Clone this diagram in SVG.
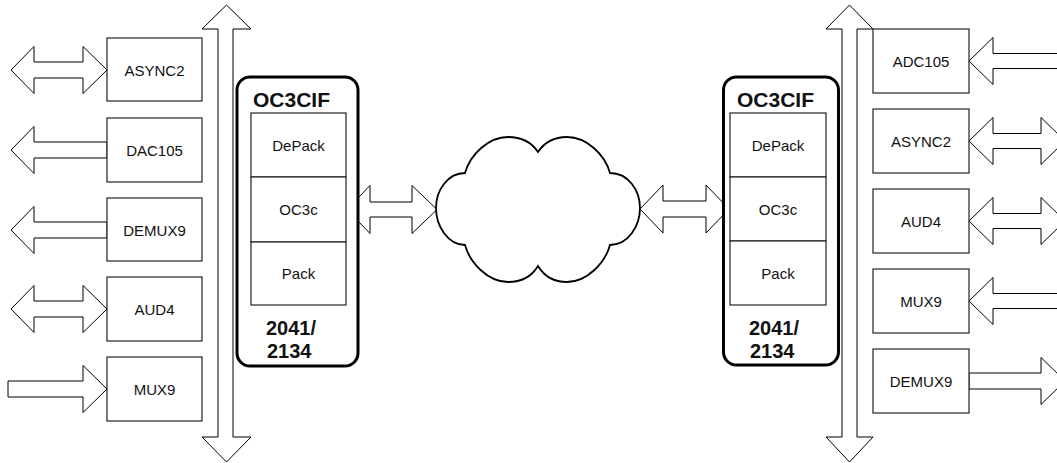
<svg xmlns="http://www.w3.org/2000/svg" width="1057" height="463" viewBox="0 0 1057 463">
<style>
.arr{fill:#fff;stroke:#000;stroke-width:1;stroke-linejoin:miter}
.box{fill:#fff;stroke:#222;stroke-width:1.2}
.blk{fill:#fff;stroke:#000;stroke-width:3}
.cloud{fill:#fff;stroke:#000;stroke-width:1.8}
.t{font-family:"Liberation Sans",Arial,sans-serif;font-size:15px;fill:#111;text-anchor:middle;dominant-baseline:central}
.b{font-family:"Liberation Sans",Arial,sans-serif;font-size:20px;font-weight:bold;fill:#111}
.h{font-size:21px}
</style>
<rect width="1057" height="463" fill="#fff"/>
<g id="connectors">
  <polygon class="arr" points="226.5,5 251,29 233,29 233,437 251,437 226.5,462 202,437 218,437 218,29 202,29"/>
  <polygon class="arr" points="849.5,5 873,29 857,29 857,437 873,437 849.5,462 826,437 842,437 842,29 826,29"/>
  <polygon class="arr" points="11,70 34,46.5 34,62 83,62 83,46.5 107,70 83,93.5 83,78 34,78 34,93.5"/>
  <polygon class="arr" points="11,150 34,126.5 34,142 107,142 107,158 34,158 34,173.5"/>
  <polygon class="arr" points="11,230 34,206.5 34,222 107,222 107,238 34,238 34,253.5"/>
  <polygon class="arr" points="11,309 34,285.5 34,301 83,301 83,285.5 107,309 83,332.5 83,317 34,317 34,332.5"/>
  <polygon class="arr" points="8,381 83,381 83,365.5 107,389 83,412.5 83,397 8,397"/>
  <polygon class="arr" points="347,209.5 370,185.5 370,202 412,202 412,185.5 437,209.5 412,233.5 412,217 370,217 370,233.5"/>
  <polygon class="arr" points="640,209 663,185 663,201 706,201 706,185 729,209 706,233 706,217 663,217 663,233"/>
  <polygon class="arr" points="969,61 993,37.5 993,53.5 1060,53.5 1060,68.5 993,68.5 993,84.5"/>
  <polygon class="arr" points="969,141 993,117.5 993,133.5 1041,133.5 1041,117.5 1065,141 1041,164.5 1041,148.5 993,148.5 993,164.5"/>
  <polygon class="arr" points="969,221 993,197.5 993,213.5 1041,213.5 1041,197.5 1065,221 1041,244.5 1041,228.5 993,228.5 993,244.5"/>
  <polygon class="arr" points="969,301 993,277.5 993,293.5 1060,293.5 1060,308.5 993,308.5 993,324.5"/>
  <polygon class="arr" points="969,373 1041,373 1041,357.5 1065,381 1041,404.5 1041,389 969,389"/>
</g>
<g id="left-ASYNC2"><rect class="box" x="107" y="38" width="95" height="63"/><text class="t" x="154.5" y="70">ASYNC2</text></g>
<g id="left-DAC105"><rect class="box" x="107" y="118" width="95" height="64"/><text class="t" x="154.5" y="150">DAC105</text></g>
<g id="left-DEMUX9"><rect class="box" x="107" y="198" width="95" height="63"/><text class="t" x="154.5" y="230">DEMUX9</text></g>
<g id="left-AUD4"><rect class="box" x="107" y="277" width="95" height="64"/><text class="t" x="154.5" y="309">AUD4</text></g>
<g id="left-MUX9"><rect class="box" x="107" y="357" width="95" height="64"/><text class="t" x="154.5" y="389">MUX9</text></g>
<g id="left-OC3CIF">
  <rect class="blk" x="237" y="77" width="121" height="289" rx="13"/>
  <text class="b h" x="253" y="107">OC3CIF</text>
  <rect class="box" x="251" y="113" width="95" height="64"/><text class="t" x="298.5" y="145">DePack</text>
  <rect class="box" x="251" y="177" width="95" height="65"/><text class="t" x="298.5" y="209.5">OC3c</text>
  <rect class="box" x="251" y="242" width="95" height="63"/><text class="t" x="298.5" y="273.5">Pack</text>
  <text class="b" x="266" y="335">2041/</text>
  <text class="b" x="267" y="358">2134</text>
</g>
<g id="cloud">
  <path class="cloud" d="M465,173 C470,155 488,137 508,137 C522,137 532,143 538,152 C544,143 554,137 567,137 C587,137 605,155 610,173 C628,173 640,190 640,208 C640,226 628,245 610,245 C605,263 587,282 567,282 C554,282 544,276 538,266 C532,276 522,282 508,282 C488,282 470,263 465,245 C448,245 436,226 436,208 C436,190 448,173 465,173 Z"/>
</g>
<g id="right-OC3CIF">
  <rect class="blk" x="723.5" y="77" width="115" height="288" rx="13"/>
  <text class="b h" x="737" y="107">OC3CIF</text>
  <rect class="box" x="730" y="113" width="96" height="64"/><text class="t" x="778" y="145">DePack</text>
  <rect class="box" x="730" y="177" width="96" height="64"/><text class="t" x="778" y="209">OC3c</text>
  <rect class="box" x="730" y="241" width="96" height="64"/><text class="t" x="778" y="273">Pack</text>
  <text class="b" x="749" y="335">2041/</text>
  <text class="b" x="750" y="358">2134</text>
</g>
<g id="right-ADC105"><rect class="box" x="873" y="29" width="96" height="64"/><text class="t" x="921" y="61">ADC105</text></g>
<g id="right-ASYNC2"><rect class="box" x="873" y="109" width="96" height="64"/><text class="t" x="921" y="141">ASYNC2</text></g>
<g id="right-AUD4"><rect class="box" x="873" y="189" width="96" height="64"/><text class="t" x="921" y="221">AUD4</text></g>
<g id="right-MUX9"><rect class="box" x="873" y="269" width="96" height="64"/><text class="t" x="921" y="301">MUX9</text></g>
<g id="right-DEMUX9"><rect class="box" x="873" y="349" width="96" height="64"/><text class="t" x="921" y="381">DEMUX9</text></g>
</svg>
